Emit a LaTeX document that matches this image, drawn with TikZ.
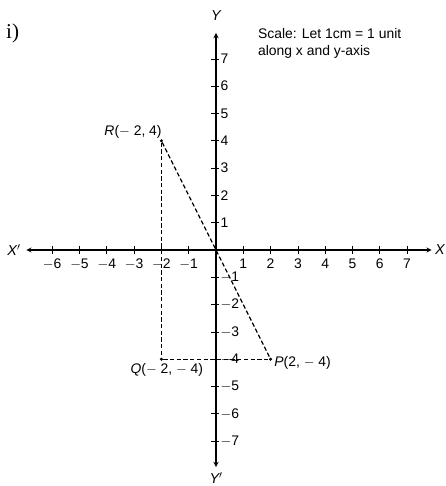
\documentclass[tikz,border=0pt]{standalone}
\usepackage{fontspec}
\setmainfont{Liberation Sans}
\newfontfamily\numfont{Liberation Serif}
\usepackage{tikz}
\usetikzlibrary{arrows, positioning}
\tikzstyle{axis}     = [line width=1.4pt, <->, >=stealth]
\tikzstyle{tick}     = [line width=0.8pt]
\tikzstyle{guide}    = [line width=1.2pt, dash pattern=on 4.5pt off 2.5pt]
\tikzstyle{pt}       = [circle, fill, inner sep=0pt, minimum size=3.5pt]
\tikzstyle{ticklbl}  = [font=\fontsize{14.5}{16}\selectfont, inner sep=1pt]
\tikzstyle{axislbl}  = [font=\fontsize{15}{17}\selectfont\itshape, inner sep=1pt]
\tikzstyle{ptlbl}    = [font=\fontsize{14.5}{16}\selectfont, inner sep=1pt]

\begin{document}
\begin{tikzpicture}
    \useasboundingbox (-7.912,-8.645) rectangle (8.425,9.158);

    % axes
    \coordinate (xl) at (-6.95, 0);
    \coordinate (xr) at (7.9, 0);
    \coordinate (yt) at (0, 7.95);
    \coordinate (yb) at (0, -7.95);
    \draw [axis] (xl) -- (xr);
    \draw [axis] (yb) -- (yt);

    \node (xneg) at (-7.4, 0)  [axislbl] {X$'$};
    \node (xpos) at (8.2, 0)   [axislbl] {X};
    \node (ypos) at (0, 8.6)   [axislbl] {Y};
    \node (yneg) at (0, -8.35) [axislbl] {Y$'$};

    % ticks and numbers
    \foreach \k in {1,...,6}
        \draw [tick] (-\k, -0.13) -- (-\k, 0.15) node [ticklbl, anchor=north] at (-\k, -0.28) {$-$\k};
    \foreach \k in {1,...,7}
        \draw [tick] (\k, -0.13) -- (\k, 0.15) node [ticklbl, anchor=north] at (\k, -0.28) {\k};
    \foreach \k in {1,...,7}
        \draw [tick] (-0.17, \k) -- (0.1, \k) node [ticklbl, anchor=west] at (0.12, \k) {\k};
    \foreach \k in {1,...,7}
        \draw [tick] (-0.17, -\k) -- (0.1, -\k) node [ticklbl, anchor=west] at (0.12, -\k) {$-$\k};

    % points
    \node (R) at (-2, 4)  [pt] {};
    \node (Q) at (-2, -4) [pt] {};
    \node (P) at (2, -4)  [pt] {};

    \node (Rlbl) [ptlbl, anchor=south east] at (-1.95, 4.05)  {\textit{R}($-$ 2, 4)};
    \node (Qlbl) [ptlbl, anchor=north]      at (-1.8, -4.12) {\textit{Q}($-$ 2, $-$ 4)};
    \node (Plbl) [ptlbl, anchor=west]       at (2.1, -4.12)   {\textit{P}(2, $-$ 4)};

    \draw [guide] (R) -- (Q);
    \draw [guide] (Q) -- (P);
    \draw [guide] (R) -- (P);

    % note and part label
    \node (scale) [font=\fontsize{14.5}{17}\selectfont, inner sep=1pt, anchor=north west, align=left] at (1.5, 8.15)
          {Scale: Let 1cm = 1 unit\\along x and y-axis};
    \node (part) [font=\numfont\fontsize{22}{24}\selectfont] at (-7.45, 7.95) {i)};
\end{tikzpicture}
\end{document}
